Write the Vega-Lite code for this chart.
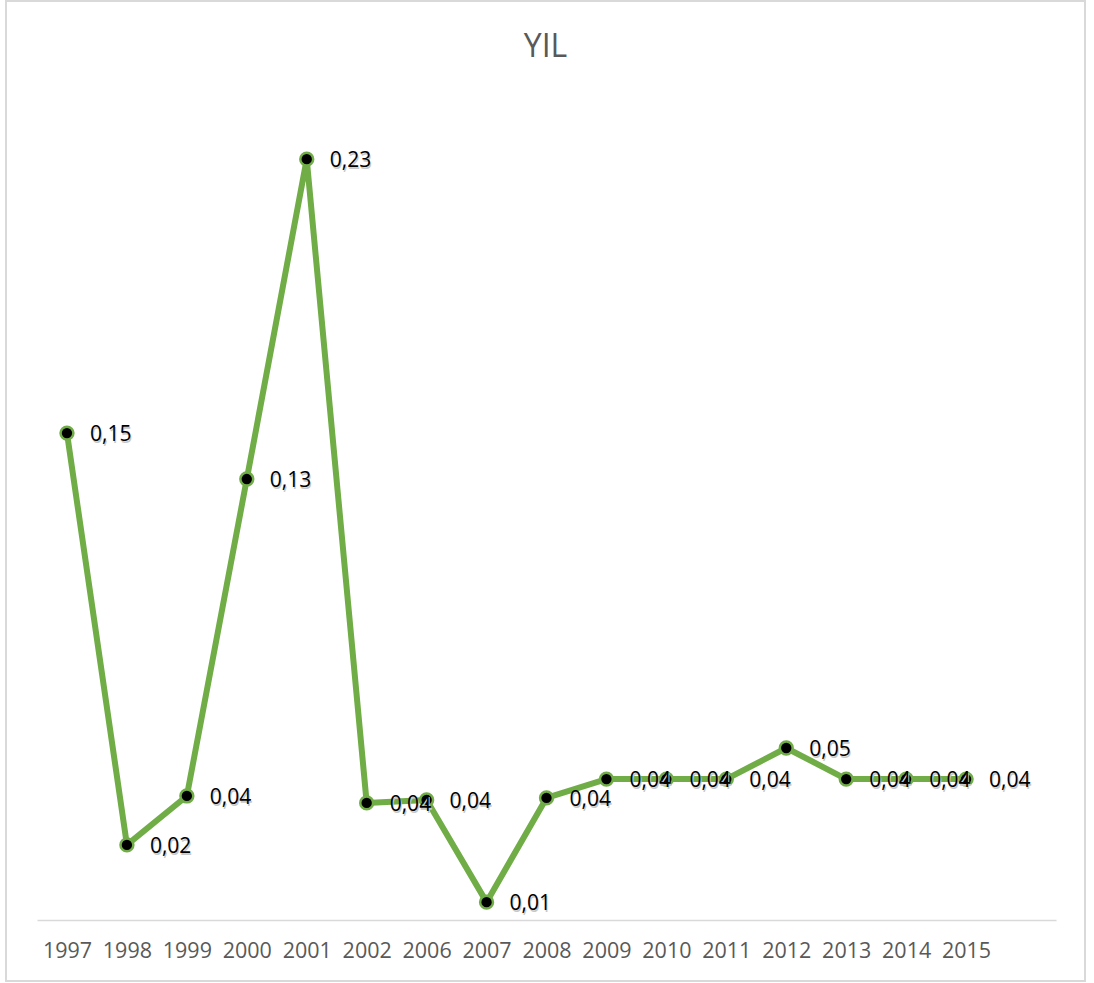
{
  "$schema": "https://vega.github.io/schema/vega-lite/v6.json",
  "width": 1079,
  "height": 980,
  "autosize": {"type": "none"},
  "padding": {"left": 6, "top": 1, "right": 9, "bottom": 2},
  "background": "white",
  "title": {"text": "YIL", "fontSize": 32, "font": "Open Sans", "fontWeight": "normal", "color": "#595959", "baseline": "alphabetic", "offset": -88, "anchor": "middle"},
  "data": {"values": [
    {"year": "1997", "value": 0.1472, "label": "0,15"},
    {"year": "1998", "value": 0.0227, "label": "0,02"},
    {"year": "1999", "value": 0.0375, "label": "0,04"},
    {"year": "2000", "value": 0.1333, "label": "0,13"},
    {"year": "2001", "value": 0.2300, "label": "0,23"},
    {"year": "2002", "value": 0.0354, "label": "0,04"},
    {"year": "2006", "value": 0.0363, "label": "0,04"},
    {"year": "2007", "value": 0.0054, "label": "0,01"},
    {"year": "2008", "value": 0.0369, "label": "0,04"},
    {"year": "2009", "value": 0.0426, "label": "0,04"},
    {"year": "2010", "value": 0.0426, "label": "0,04"},
    {"year": "2011", "value": 0.0426, "label": "0,04"},
    {"year": "2012", "value": 0.0520, "label": "0,05"},
    {"year": "2013", "value": 0.0426, "label": "0,04"},
    {"year": "2014", "value": 0.0426, "label": "0,04"},
    {"year": "2015", "value": 0.0426, "label": "0,04"}
  ]},
  "encoding": {
    "x": {
      "field": "year", "type": "ordinal", "sort": null,
      "scale": {"type": "point", "padding": 0.5, "range": [31, 1050], "domain": ["1997","1998","1999","2000","2001","2002","2006","2007","2008","2009","2010","2011","2012","2013","2014","2015",""]},
      "axis": {"title": null, "labelAngle": 0, "ticks": false, "grid": false, "offset": -61, "domainColor": "#D9D9D9", "domainWidth": 1.5, "labelFont": "Open Sans", "labelFontSize": 21.5, "labelColor": "#595959", "labelPadding": 20}
    },
    "y": {"field": "value", "type": "quantitative", "scale": {"domain": [0, 0.25], "range": [919, 92]}, "axis": null}
  },
  "layer": [
    {"mark": {"type": "line", "color": "#70AD47", "strokeWidth": 6, "strokeJoin": "round"}},
    {"mark": {"type": "point", "filled": true, "fill": "black", "stroke": "#70AD47", "strokeWidth": 2.5, "size": 165, "opacity": 1}},
    {"mark": {"type": "text", "align": "left", "baseline": "middle", "dx": 24, "dy": 4, "font": "Open Sans", "fontSize": 21, "color": "#c8c8c8"}, "encoding": {"text": {"field": "label"}}},
    {"mark": {"type": "text", "align": "left", "baseline": "middle", "dx": 23, "dy": 2, "font": "Open Sans", "fontSize": 21, "color": "black"}, "encoding": {"text": {"field": "label"}}}
  ],
  "config": {"view": {"stroke": "#D9D9D9", "strokeWidth": 2}}
}
